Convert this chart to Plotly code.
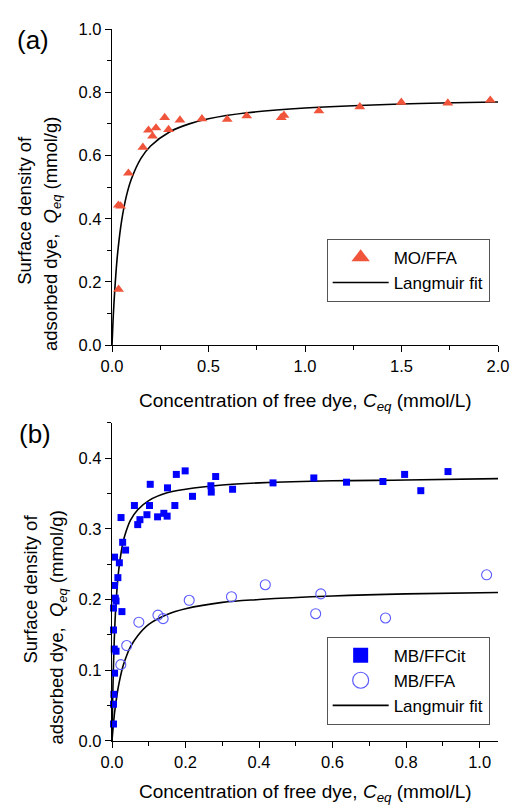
import plotly.graph_objects as go

# ---------------- data ----------------
# (a) MO/FFA
mo_ffa_c = [0.034, 0.033, 0.045, 0.085, 0.160, 0.189, 0.210, 0.228, 0.273, 0.293, 0.352,
            0.466, 0.597, 0.698, 0.877, 0.891, 1.072, 1.284, 1.499, 1.740, 1.960]
mo_ffa_q = [0.177, 0.443, 0.440, 0.544, 0.626, 0.680, 0.661, 0.687, 0.720, 0.682, 0.712,
            0.716, 0.714, 0.725, 0.720, 0.727, 0.741, 0.754, 0.768, 0.766, 0.775]
fit_a_c = [0, 0.005, 0.01, 0.02, 0.03, 0.05, 0.075, 0.1, 0.15, 0.2, 0.3, 0.4, 0.5, 0.7, 1.0, 1.5, 2.0]
fit_a_q = [0, 0.072, 0.131, 0.225, 0.296, 0.394, 0.473, 0.525, 0.591, 0.630, 0.675, 0.700,
           0.716, 0.735, 0.750, 0.763, 0.769]

# (b) MB/FFCit
mb_ffcit_c = [0.004, 0.004, 0.005, 0.007, 0.006, 0.011, 0.004, 0.004, 0.009, 0.011, 0.027,
              0.007, 0.016, 0.020, 0.007, 0.029, 0.037, 0.0246, 0.061, 0.070, 0.076, 0.095,
              0.102, 0.104, 0.124, 0.141, 0.150, 0.151, 0.171, 0.175, 0.199, 0.219, 0.269,
              0.270, 0.282, 0.328, 0.438, 0.549, 0.638, 0.737, 0.796, 0.840, 0.914]
mb_ffcit_q = [0.024, 0.052, 0.066, 0.096, 0.130, 0.127, 0.157, 0.188, 0.202, 0.198, 0.183,
              0.220, 0.231, 0.252, 0.260, 0.281, 0.270, 0.316, 0.333, 0.306, 0.313, 0.320,
              0.333, 0.363, 0.317, 0.322, 0.318, 0.358, 0.333, 0.377, 0.382, 0.346, 0.361,
              0.352, 0.374, 0.356, 0.365, 0.372, 0.366, 0.367, 0.377, 0.354, 0.381]
# (b) MB/FFA
mb_ffa_c = [0.024, 0.040, 0.073, 0.125, 0.139, 0.210, 0.325, 0.417, 0.554, 0.568, 0.744, 1.019]
mb_ffa_q = [0.108, 0.135, 0.168, 0.178, 0.173, 0.199, 0.204, 0.221, 0.180, 0.208, 0.174, 0.235]

fit_b_c = [0, 0.001, 0.002, 0.003, 0.005, 0.007, 0.01, 0.015, 0.02, 0.03, 0.04, 0.05, 0.07,
           0.1, 0.15, 0.2, 0.3, 0.4, 0.6, 0.8, 1.05]
fit_ffcit_q = [0, 0.034, 0.062, 0.086, 0.125, 0.154, 0.187, 0.224, 0.249, 0.281, 0.299, 0.312,
               0.327, 0.340, 0.351, 0.356, 0.362, 0.365, 0.368, 0.369, 0.371]
fit_ffa_q = [0, 0.007, 0.013, 0.019, 0.030, 0.040, 0.052, 0.070, 0.084, 0.106, 0.121, 0.133,
             0.149, 0.165, 0.179, 0.187, 0.196, 0.200, 0.205, 0.208, 0.210]

# ---------------- styling ----------------
FONT = "Arial, 'Liberation Sans', sans-serif"
PAGE_OFF = 8                      # default body margin of the html page
W, H = 521 - PAGE_OFF, 805 - PAGE_OFF
ML, MR, MT, MB = 103.5, 13, 17, 64
PW = W - ML - MR
PH = H - MT - MB


def px(x):
    """page pixel x -> paper coordinate"""
    return (x - PAGE_OFF - ML) / PW


def py(y):
    """page pixel y -> paper coordinate"""
    return (H - MB - (y - PAGE_OFF)) / PH


ORANGE = "#f0553c"
BLUE = "#0000ff"
LBLUE = "#5a5aff"
LW = 1.4

fig = go.Figure()

# panel (a)
fig.add_trace(go.Scatter(x=fit_a_c, y=fit_a_q, mode="lines", name="Langmuir fit",
                         line=dict(color="black", width=1.6, shape="spline"),
                         xaxis="x", yaxis="y", legend="legend", legendrank=2, showlegend=True))
fig.add_trace(go.Scatter(x=mo_ffa_c, y=mo_ffa_q, mode="markers", name="MO/FFA",
                         marker=dict(symbol="triangle-up", size=9.5, color=ORANGE),
                         xaxis="x", yaxis="y", showlegend=False, cliponaxis=False))
fig.add_trace(go.Scatter(x=[None], y=[None], mode="markers", name="MO/FFA",
                         marker=dict(symbol="triangle-up", size=16, color=ORANGE),
                         xaxis="x", yaxis="y", legend="legend", legendrank=1))

# panel (b)
fig.add_trace(go.Scatter(x=fit_b_c, y=fit_ffcit_q, mode="lines", name="Langmuir fit",
                         line=dict(color="black", width=1.6, shape="spline"),
                         xaxis="x2", yaxis="y2", legend="legend2", legendrank=3))
fig.add_trace(go.Scatter(x=fit_b_c, y=fit_ffa_q, mode="lines", name="Langmuir fit",
                         line=dict(color="black", width=1.6, shape="spline"),
                         xaxis="x2", yaxis="y2", showlegend=False))
fig.add_trace(go.Scatter(x=mb_ffcit_c, y=mb_ffcit_q, mode="markers", name="MB/FFCit",
                         marker=dict(symbol="square", size=7, color=BLUE),
                         xaxis="x2", yaxis="y2", showlegend=False, cliponaxis=False))
fig.add_trace(go.Scatter(x=mb_ffa_c, y=mb_ffa_q, mode="markers", name="MB/FFA",
                         marker=dict(symbol="circle-open", size=10, color=LBLUE,
                                     line=dict(width=1.1, color=LBLUE)),
                         xaxis="x2", yaxis="y2", showlegend=False, cliponaxis=False))
fig.add_trace(go.Scatter(x=[None], y=[None], mode="markers", name="MB/FFCit",
                         marker=dict(symbol="square", size=15, color=BLUE),
                         xaxis="x2", yaxis="y2", legend="legend2", legendrank=1))
fig.add_trace(go.Scatter(x=[None], y=[None], mode="markers", name="MB/FFA",
                         marker=dict(symbol="circle-open", size=16, color=LBLUE,
                                     line=dict(width=1.2, color=LBLUE)),
                         xaxis="x2", yaxis="y2", legend="legend2", legendrank=2))


def main_axis(rng, dtick, mdtick, domain=None, anchor=None):
    d = dict(range=rng, dtick=dtick, tick0=0, ticks="outside", ticklen=6, tickwidth=LW,
             tickcolor="black", showline=True, linecolor="black", linewidth=LW,
             showgrid=False, zeroline=False, tickformat=".1f", fixedrange=True,
             tickfont=dict(family=FONT, size=16.5, color="black"),
             minor=dict(dtick=mdtick, tick0=0, ticks="outside", ticklen=4, tickwidth=LW,
                        tickcolor="black", showgrid=False))
    if domain is not None:
        d["domain"] = domain
    if anchor is not None:
        d["anchor"] = anchor
    return d


def mirror_axis(rng, dtick, mdtick, overlaying, anchor, side):
    return dict(range=rng, dtick=dtick, tick0=0, ticks="inside", ticklen=6, tickwidth=LW,
                tickcolor="black", showline=True, linecolor="black", linewidth=LW,
                showgrid=False, zeroline=False, showticklabels=False, fixedrange=True,
                overlaying=overlaying, anchor=anchor, side=side,
                minor=dict(dtick=mdtick, tick0=0, ticks="inside", ticklen=4, tickwidth=LW,
                           tickcolor="black", showgrid=False))


top_dom = [py(343), 1.0]
bot_dom = [0.0, py(421)]

legend_style = dict(xanchor="left", yanchor="top", bordercolor="#555555", borderwidth=1,
                    bgcolor="white", font=dict(family=FONT, size=17, color="black"),
                    tracegroupgap=0, itemwidth=56)

fig.update_layout(
    width=W, height=H,
    margin=dict(l=ML, r=MR, t=MT, b=MB, pad=0),
    paper_bgcolor="white", plot_bgcolor="white",
    font=dict(family=FONT, color="black"),
    xaxis=main_axis([0, 2.0], 0.5, 0.25, anchor="y"),
    yaxis=main_axis([0, 1.0], 0.2, 0.1, domain=top_dom, anchor="x"),
    xaxis2=main_axis([0, 1.05], 0.2, 0.1, anchor="y2"),
    yaxis2=main_axis([0, 0.45], 0.1, 0.05, domain=bot_dom, anchor="x2"),
    xaxis3=mirror_axis([0, 2.0], 0.5, 0.25, "x", "y", "top"),
    yaxis3=mirror_axis([0, 1.0], 0.2, 0.1, "y", "x", "right"),
    xaxis4=mirror_axis([0, 1.05], 0.2, 0.1, "x2", "y2", "top"),
    yaxis4=mirror_axis([0, 0.45], 0.1, 0.05, "y2", "x2", "right"),
    legend=dict(x=px(332), y=py(236), **legend_style),
    legend2=dict(x=px(332), y=py(636), **legend_style),
    showlegend=True,
)

ann = []
ann.append(dict(text="(a)", x=px(30), y=py(36), font=dict(size=26)))
ann.append(dict(text="(b)", x=px(32), y=py(432), font=dict(size=26)))
ann.append(dict(text="Surface density of", x=px(22), y=py(207), textangle=-90, font=dict(size=18.5)))
ann.append(dict(text="adsorbed dye,  <i>Q</i><sub><i>eq</i></sub> (mmol/g)", x=px(50), y=py(231),
                textangle=-90, font=dict(size=18.5)))
ann.append(dict(text="Surface density of", x=px(28), y=py(588), textangle=-90, font=dict(size=18.5)))
ann.append(dict(text="adsorbed dye,  <i>Q</i><sub><i>eq</i></sub> (mmol/g)", x=px(56), y=py(627),
                textangle=-90, font=dict(size=18.5)))
ann.append(dict(text="Concentration of free dye, <i>C</i><sub><i>eq</i></sub> (mmol/L)", x=px(310), y=py(400),
                font=dict(size=19)))
ann.append(dict(text="Concentration of free dye, <i>C</i><sub><i>eq</i></sub> (mmol/L)", x=px(310), y=py(793),
                font=dict(size=19)))
for a in ann:
    a.update(xref="paper", yref="paper", showarrow=False, xanchor="center", yanchor="middle")
    a["font"].update(family=FONT, color="black")
fig.update_layout(annotations=ann)

fig.write_html("out.html")
